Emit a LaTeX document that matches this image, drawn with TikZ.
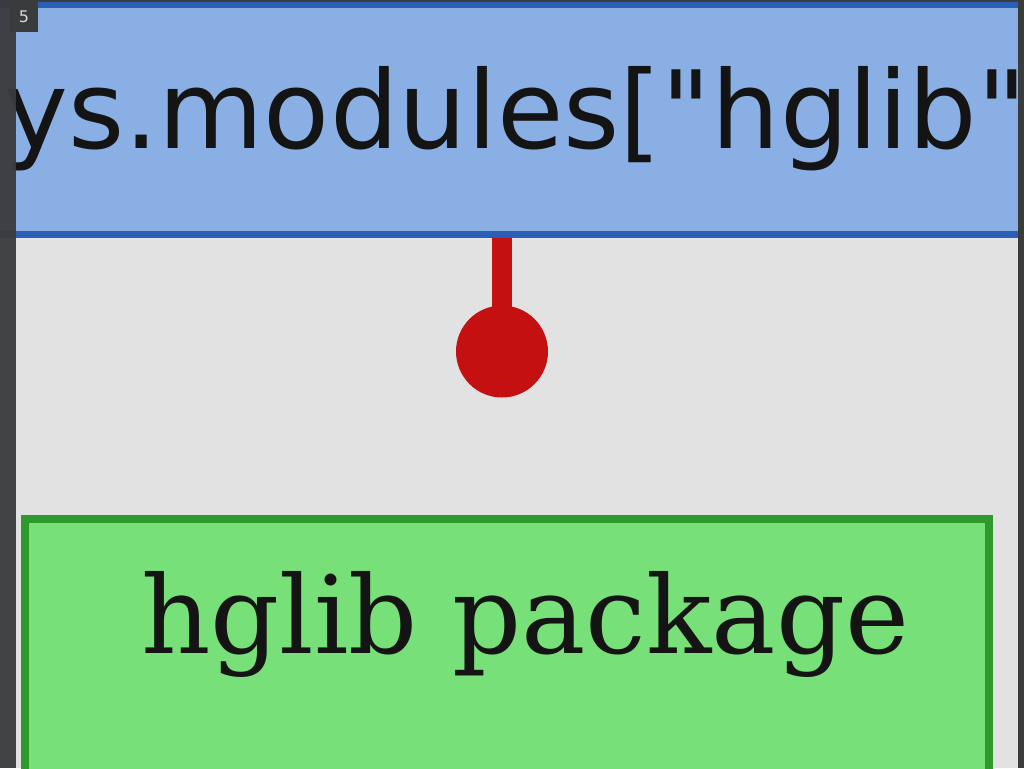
\documentclass[tikz,border=0pt]{standalone}
\usepackage{fontspec}
\newfontfamily\codefont{DejaVu Sans}
\newfontfamily\labelfont{DejaVu Serif}
\definecolor{bgcol}{HTML}{E2E2E2}
\definecolor{stripcol}{HTML}{3A3B3D}
\definecolor{bluefill}{HTML}{8AAFE4}
\definecolor{blueedge}{HTML}{2B5FB5}
\definecolor{greenfill}{HTML}{78E078}
\definecolor{greenedge}{HTML}{2E9A2E}
\definecolor{redcol}{HTML}{C41010}
\definecolor{inkcol}{HTML}{141414}
\tikzset{
  modbox/.style={draw=blueedge, fill=bluefill, line width=7pt, rectangle, inner sep=0pt},
  pkgbox/.style={draw=greenedge, fill=greenfill, line width=8pt, rectangle, inner sep=0pt},
  bigtext/.style={inner sep=0pt, anchor=base west, text=inkcol},
  lollipop/.style={draw=none, fill=redcol, circle, inner sep=0pt, minimum size=92pt},
  stem/.style={draw=redcol, line width=20pt},
  slidenum/.style={fill=stripcol, text=white!85!black, font=\codefont\fontsize{16}{16}\selectfont, minimum width=28pt, minimum height=30pt, inner sep=0pt}
}
\begin{document}
\begin{tikzpicture}[x=1pt,y=-1pt]
\useasboundingbox (0,0) rectangle (1024,768);
\clip (0,0) rectangle (1024,768);
\fill[bgcol] (0,0) rectangle (1024,768);
% blue module box
\node[modbox, minimum width=1080pt, minimum height=229pt] (mod) at (512,119.5) {};
\node[bigtext, font=\codefont\fontsize{108}{108}\selectfont] (modtext) at (4,148) {ys.modules["hglib"};
% green package box
\node[pkgbox, minimum width=964pt, minimum height=400pt] (pkg) at (507,719) {};
\node[bigtext, font=\labelfont\fontsize{108}{108}\selectfont] (pkgtext) at (141,653) {hglib package};
% lollipop connector
\node[lollipop] (ball) at (502,351.5) {};
\draw[stem] (ball |- mod.south) -- (ball.center);
% frame strips
\fill[stripcol] (0,0) rectangle (1024,2);
\fill[stripcol, opacity=0.95] (0,0) rectangle (16,768);
\fill[stripcol] (1018,0) rectangle (1024,768);
\node[slidenum] (num) at (24,17) {5};
\end{tikzpicture}
\end{document}
